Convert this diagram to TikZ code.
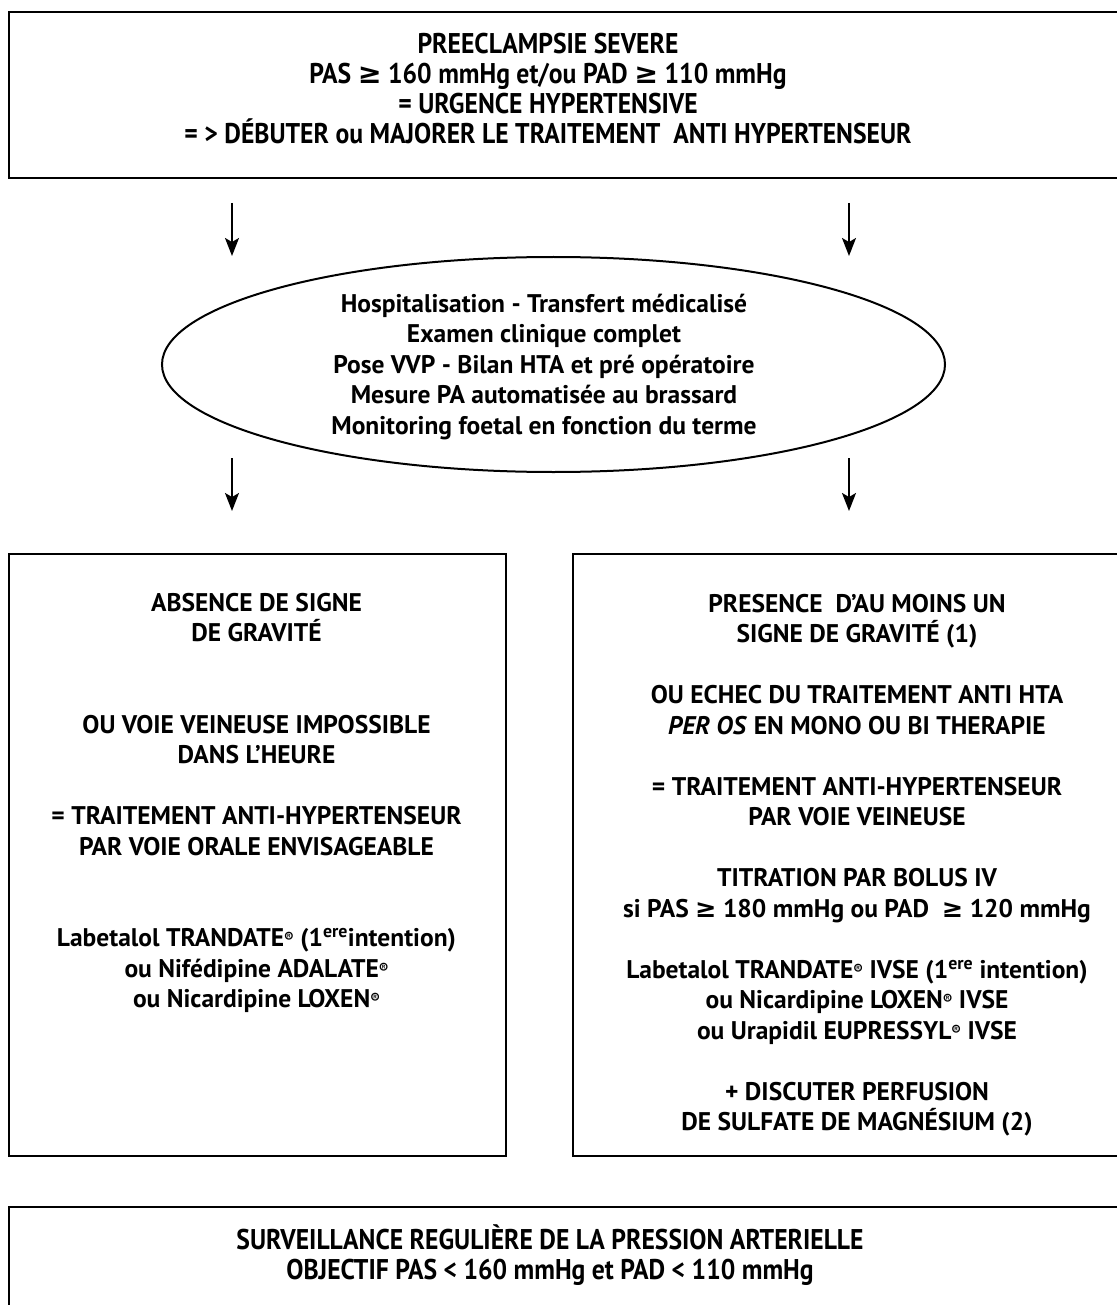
\documentclass[tikz,border=0pt]{standalone}
\usepackage{fontspec}
\setmainfont{PT Sans}
\newfontfamily\condfont[FakeStretch=0.9]{PT Sans}
\newfontfamily\symfont{DejaVu Sans}
\usetikzlibrary{arrows.meta,shapes.geometric}
\newcommand{\regmark}{{\fontsize{14}{14}\selectfont\raisebox{0.55ex}{®}}}
\newcommand{\geqsym}{{\symfont\bfseries ≥}}
\begin{document}
\begin{tikzpicture}[x=1pt,y=-1pt,
  box/.style={draw, line width=2pt, rectangle, inner sep=0pt, anchor=north west},
  oval/.style={draw, line width=2pt, ellipse, inner sep=0pt},
  txt/.style={align=center, font=\bfseries\fontsize{25.5}{30.5}\selectfont, inner sep=0pt},
  ctxt/.style={align=center, font=\condfont\bfseries\fontsize{28.5}{30}\selectfont, inner sep=0pt},
  arr/.style={line width=1.8pt, -{Stealth[length=18pt,width=14pt,inset=4pt]}}]
\useasboundingbox (0,0) rectangle (1116,1305);

% boxes
\node[box, minimum width=1114pt, minimum height=166pt] (topbox) at (8,11) {};
\node[box, minimum width=497pt, minimum height=602pt] (leftbox) at (8,553) {};
\node[box, minimum width=550pt, minimum height=602pt] (rightbox) at (572,553) {};
\node[box, minimum width=1114pt, minimum height=120pt] (botbox) at (8,1206) {};
\node[oval, minimum width=783pt, minimum height=215pt] (ell) at (553.5,364.5) {};

% texts
\node[ctxt] (toptext) at (548,89) {PREECLAMPSIE SEVERE\\
PAS \geqsym{} 160 mmHg et/ou PAD \geqsym{} 110 mmHg\\
= URGENCE HYPERTENSIVE\\
= > DÉBUTER ou MAJORER LE TRAITEMENT\ \ ANTI HYPERTENSEUR};

\node[txt] (elltext) at (544,367) {Hospitalisation - Transfert médicalisé\\
Examen clinique complet\\
Pose VVP - Bilan HTA et pré opératoire\\
Mesure PA automatisée au brassard\\
Monitoring foetal en fonction du terme};

\node[txt] (lefttext) at (256.5,803) {ABSENCE DE SIGNE\\
DE GRAVITÉ\\[61pt]
OU VOIE VEINEUSE IMPOSSIBLE\\
DANS L’HEURE\\[30.5pt]
= TRAITEMENT ANTI-HYPERTENSEUR\\
PAR VOIE ORALE ENVISAGEABLE\\[61pt]
Labetalol TRANDATE\regmark\ (1\textsuperscript{ere}intention)\\
ou Nifédipine ADALATE\regmark\\
ou Nicardipine LOXEN\regmark};

\node[txt] (righttext) at (857,865) {PRESENCE\ \ D’AU MOINS UN\\
SIGNE DE GRAVITÉ (1)\\[30.5pt]
OU ECHEC DU TRAITEMENT ANTI HTA\\
\textit{PER OS} EN MONO OU BI THERAPIE\\[30.5pt]
= TRAITEMENT ANTI-HYPERTENSEUR\\
PAR VOIE VEINEUSE\\[30.5pt]
TITRATION PAR BOLUS IV\\
si PAS \geqsym{} 180 mmHg ou PAD\ \ \geqsym{} 120 mmHg\\[30.5pt]
Labetalol TRANDATE\regmark\ IVSE (1\textsuperscript{ere} intention)\\
ou Nicardipine LOXEN\regmark\ IVSE\\
ou Urapidil EUPRESSYL\regmark\ IVSE\\[30.5pt]
+ DISCUTER PERFUSION\\
DE SULFATE DE MAGNÉSIUM (2)};

\node[ctxt] (bottext) at (550,1255) {SURVEILLANCE REGULIÈRE DE LA PRESSION ARTERIELLE\\
OBJECTIF PAS < 160 mmHg et PAD < 110 mmHg};

% arrows
\coordinate (a1s) at (232,203); \coordinate (a1e) at (232,256);
\coordinate (a2s) at (849,203); \coordinate (a2e) at (849,256);
\coordinate (a3s) at (232,458); \coordinate (a3e) at (232,511);
\coordinate (a4s) at (849,458); \coordinate (a4e) at (849,511);
\draw[arr] (a1s) -- (a1e);
\draw[arr] (a2s) -- (a2e);
\draw[arr] (a3s) -- (a3e);
\draw[arr] (a4s) -- (a4e);
\end{tikzpicture}
\end{document}
